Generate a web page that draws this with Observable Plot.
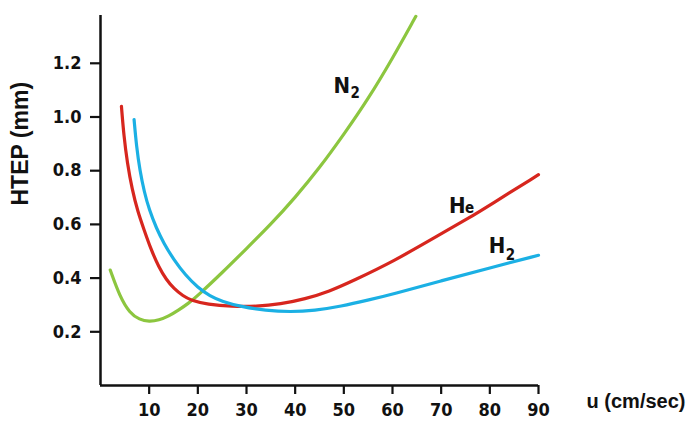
<!DOCTYPE html>
<html><head><meta charset="utf-8">
<script src="https://cdn.jsdelivr.net/npm/d3@7"></script>
<script src="https://cdn.jsdelivr.net/npm/@observablehq/plot@0.6"></script>
<style>body{margin:0;background:#fff}</style>
</head><body><div id="chart"></div>
<script>
// N2 (green)
const n2U = [2, 4, 6, 8, 10, 12, 14, 16, 18, 20, 25, 30, 35, 40, 45, 50, 55, 60, 64.8];
const n2V = [0.43, 0.33, 0.27, 0.245, 0.238, 0.243, 0.258, 0.28, 0.305, 0.335, 0.42, 0.51, 0.60, 0.70, 0.81, 0.935, 1.067, 1.218, 1.375];
// He (red)
const heU = [4.3, 4.8, 5.5, 6.5, 7.7, 8.9, 10.3, 12, 13.5, 15.1, 17, 18.5, 22, 27, 32, 37, 42, 47, 52, 60, 70, 76, 80, 90];
const heV = [1.04, 0.93, 0.83, 0.73, 0.645, 0.583, 0.51, 0.44, 0.395, 0.36, 0.333, 0.318, 0.302, 0.294, 0.294, 0.303, 0.322, 0.35, 0.391, 0.46, 0.565, 0.627, 0.672, 0.785];
// H2 (blue)
const h2U = [6.9, 7.4, 8.1, 9, 10, 11.5, 13, 15, 17.5, 20, 22.5, 25, 28.8, 34, 39, 44, 49.4, 55, 60, 70, 80, 90];
const h2V = [0.99, 0.89, 0.80, 0.72, 0.655, 0.585, 0.53, 0.47, 0.41, 0.365, 0.333, 0.313, 0.294, 0.279, 0.274, 0.279, 0.295, 0.318, 0.34, 0.39, 0.438, 0.485];

const gases = ["N2", "He", "H2"];
const gasColors = ["#8cc63f", "#d7261e", "#1bb0e4"];

const xTicks = [10, 20, 30, 40, 50, 60, 70, 80, 90];
const yTicks = [0.2, 0.4, 0.6, 0.8, 1.0, 1.2];

// curve labels: main letter, subscript, anchor position (data coords)
const labelMain = ["N", "H", "H"];
const labelSub = ["2", "e", "2"];
const labelU = [47.9, 71.6, 79.8];
const labelV = [1.114, 0.670, 0.518];

const xLabel = "u (cm/sec)";
const yLabel = "HTEP (mm)";

const rows = [
  ...n2U.map((u, i) => ({gas: "N2", u, v: n2V[i]})),
  ...heU.map((u, i) => ({gas: "He", u, v: heV[i]})),
  ...h2U.map((u, i) => ({gas: "H2", u, v: h2V[i]}))
];
const labels = labelMain.map((m, i) => ({main: m, sub: labelSub[i], u: labelU[i], v: labelV[i]}));

const narrow = "'Liberation Sans Narrow','DejaVu Sans Condensed',sans-serif";
const wide = "'Liberation Sans','DejaVu Sans',sans-serif";

const chart = Plot.plot({
  width: 687, height: 423,
  marginLeft: 100, marginRight: 149, marginTop: 15, marginBottom: 38,
  x: {domain: [0, 90]},
  y: {domain: [0, 1.378]},
  color: {domain: gases, range: gasColors},
  style: {fontFamily: narrow, fontWeight: "bold", fontSize: "18px", color: "#111", background: "#fff"},
  marks: [
    Plot.axisX({ticks: xTicks, tickSize: 9, tickPadding: 9, tickFormat: d => String(d), label: null, strokeWidth: 2.2}),
    Plot.axisY({ticks: yTicks, tickSize: 10, tickPadding: 9, tickFormat: d => d.toFixed(1), label: null, strokeWidth: 2.2}),
    Plot.ruleX([0], {strokeWidth: 2.5, stroke: "#111"}),
    Plot.ruleY([0], {strokeWidth: 2.5, stroke: "#111"}),
    Plot.line(rows, {x: "u", y: "v", z: "gas", stroke: "gas", strokeWidth: 3.2, curve: "basis"}),
    Plot.text(labels, {x: "u", y: "v", text: "main", textAnchor: "start", fontSize: 22, fill: "#111"}),
    Plot.text(labels.filter((d, i) => i === 0), {x: "u", y: "v", text: "sub", textAnchor: "start", fontSize: 15, dx: 17, dy: 7, fill: "#111"}),
    Plot.text(labels.filter((d, i) => i === 1), {x: "u", y: "v", text: "sub", textAnchor: "start", fontSize: 15, dx: 16, dy: 3, fill: "#111"}),
    Plot.text(labels.filter((d, i) => i === 2), {x: "u", y: "v", text: "sub", textAnchor: "start", fontSize: 15, dx: 17, dy: 9, fill: "#111"}),
    Plot.text([xLabel], {frameAnchor: "bottom-right", textAnchor: "end", dx: 147, dy: 22, fontSize: 20, fontFamily: wide, fill: "#111"}),
    Plot.text([yLabel], {frameAnchor: "left", rotate: -90, dx: -80, dy: 5, fontSize: 23, fontFamily: wide, fill: "#111"})
  ]
});
document.getElementById("chart").appendChild(chart);
</script>
</body></html>
